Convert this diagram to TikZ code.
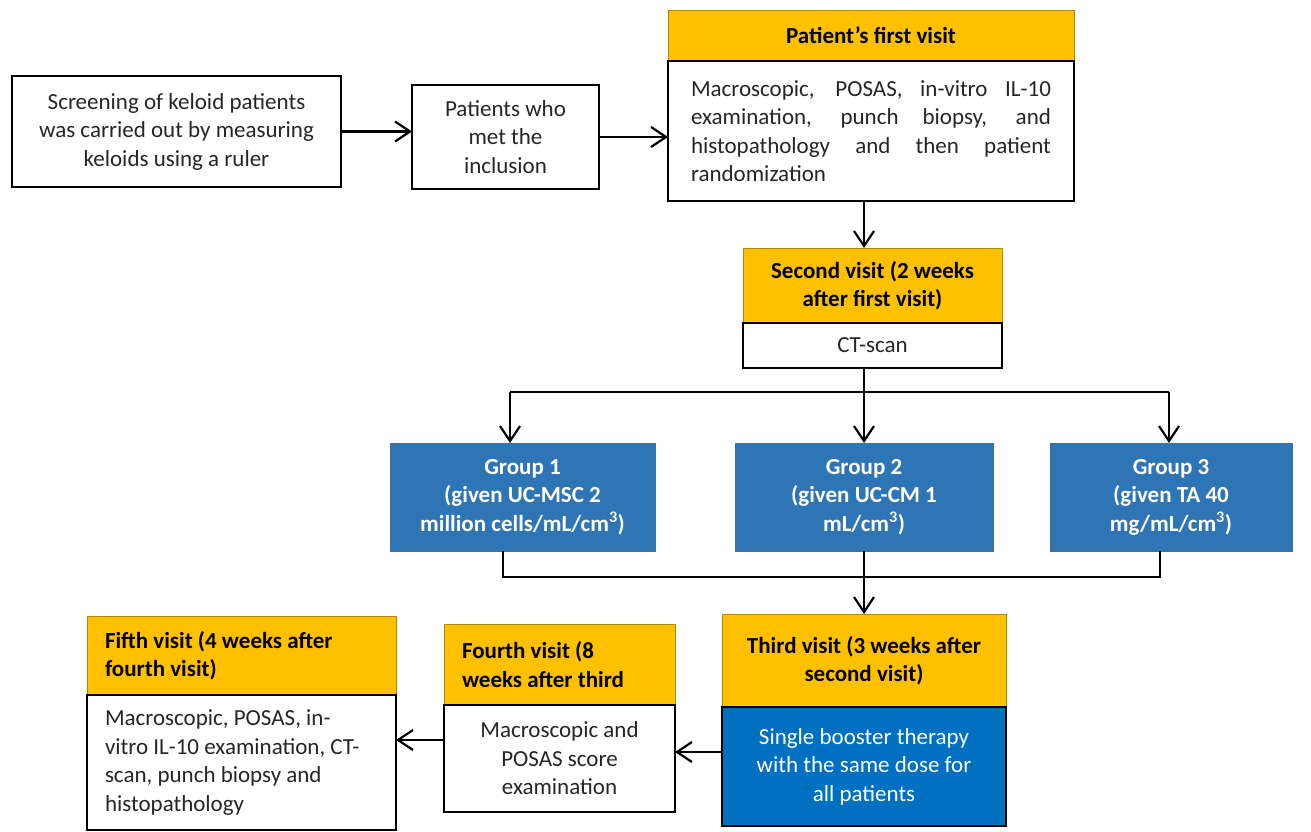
\documentclass[tikz,border=0pt]{standalone}
\usepackage{fontspec}
\setmainfont{Carlito}
\usetikzlibrary{arrows.meta}
\definecolor{gold}{HTML}{FFC000}
\definecolor{goldedge}{HTML}{B08A00}
\definecolor{grpblue}{HTML}{2E75B6}
\definecolor{grpedge}{HTML}{41719C}
\definecolor{boostblue}{HTML}{0070C0}
\definecolor{txt}{HTML}{262626}
\begin{document}
\begin{tikzpicture}[x=1pt,y=-1pt,
  every node/.style={font=\fontsize{23}{28.5}\selectfont, inner sep=0pt, outer sep=0pt},
  plainbox/.style={draw=black, line width=2.2pt, fill=white, text=txt, align=center},
  hdrbox/.style={draw=goldedge, line width=0.8pt, fill=gold, text=black, align=center,
    font=\bfseries\fontsize{23}{28.5}\selectfont},
  grpbox/.style={draw=grpedge, line width=1pt, fill=grpblue, text=white, align=center,
    font=\bfseries\fontsize{23}{28.5}\selectfont},
  boostbox/.style={draw=black, line width=2.2pt, fill=boostblue, text=white, align=center},
  arr/.style={line width=2.2pt, -{Straight Barb[length=15pt,width=20pt,line width=2.2pt]}},
  link/.style={line width=2.2pt}
]
\fill[white] (0,0) rectangle (1311,832);
\useasboundingbox (0,0) rectangle (1311,832);

% top row
\node[plainbox, minimum width=329pt, minimum height=111pt] (scr) at (176.5,131.5)
  {Screening of keloid patients\\was carried out by measuring\\keloids using a ruler};
\node[plainbox, minimum width=187pt, minimum height=104pt] (pat) at (505.5,137)
  {Patients who\\met the\\inclusion};
\node[hdrbox, minimum width=406pt, minimum height=50pt] (h1) at (871,35)
  {Patient\symbol{39}s first visit};
\node[plainbox, minimum width=406pt, minimum height=140pt, align=left] (b1) at (871,131)
  {\makebox[360pt][s]{Macroscopic, POSAS, in-vitro IL-10}\\
   \makebox[360pt][s]{examination, punch biopsy, and}\\
   \makebox[360pt][s]{histopathology and then patient}\\
   \makebox[360pt][l]{randomization}};

% second visit
\node[hdrbox, minimum width=259pt, minimum height=75pt] (h2) at (872.5,285.5)
  {Second visit (2 weeks\\after first visit)};
\node[plainbox, minimum width=259pt, minimum height=45pt] (b2) at (872.5,345.5)
  {CT-scan};

% groups
\node[grpbox, minimum width=265pt, minimum height=108pt] (g1) at (522.5,497)
  {Group 1\\(given UC-MSC 2\\million cells/mL/cm\textsuperscript{3})};
\node[grpbox, minimum width=258pt, minimum height=108pt] (g2) at (864,497)
  {Group 2\\(given UC-CM 1\\mL/cm\textsuperscript{3})};
\node[grpbox, minimum width=242pt, minimum height=108pt] (g3) at (1171,497)
  {Group 3\\(given TA 40\\mg/mL/cm\textsuperscript{3})};

% bottom row
\node[hdrbox, minimum width=284pt, minimum height=93pt] (h3) at (864,660.5)
  {Third visit (3 weeks after\\second visit)};
\node[boostbox, minimum width=284pt, minimum height=119pt] (b3) at (864,766.5)
  {Single booster therapy\\with the same dose for\\all patients};
\node[hdrbox, minimum width=231pt, minimum height=81pt, align=left] (h4) at (559.5,664.5)
  {\makebox[195pt][l]{Fourth visit (8}\\\makebox[195pt][l]{weeks after third}};
\node[plainbox, minimum width=231pt, minimum height=107pt] (b4) at (559.5,758.5)
  {Macroscopic and\\POSAS score\\examination};
\node[hdrbox, minimum width=309pt, minimum height=79pt, align=left] (h5) at (241.5,655.5)
  {\makebox[273pt][l]{Fifth visit (4 weeks after}\\\makebox[273pt][l]{fourth visit)}};
\node[plainbox, minimum width=309pt, minimum height=135pt, align=left] (b5) at (241.5,762.5)
  {\makebox[273pt][l]{Macroscopic, POSAS, in-}\\
   \makebox[273pt][l]{vitro IL-10 examination, CT-}\\
   \makebox[273pt][l]{scan, punch biopsy and}\\
   \makebox[273pt][l]{histopathology}};

% connectors
\coordinate (sp) at (864,392);
\coordinate (L) at (510,392);
\coordinate (R) at (1169,392);
\coordinate (jl) at (503,577);
\coordinate (jm) at (864,577);
\coordinate (jr) at (1160,577);

\draw[arr] (scr.east) -- (pat.west |- scr.east);
\draw[arr] (pat.east) -- (b1.west |- pat.east);
\draw[arr] (b1.south -| sp) -- (h2.north -| sp);
\draw[link] (b2.south -| sp) -- (sp);
\draw[link] (L) -- (R);
\draw[arr] (L) -- (g1.north -| L);
\draw[arr] (sp) -- (g2.north -| sp);
\draw[arr] (R) -- (g3.north -| R);
\draw[link] (g1.south -| jl) -- (jl) -- (jr) -- (g3.south -| jr);
\draw[link] (g2.south -| jm) -- (jm);
\draw[arr] (jm) -- (h3.north -| jm);
\draw[arr] ([yshift=14.5pt]b3.west) -- ([yshift=14.5pt]b3.west -| b4.east);
\draw[arr] ([yshift=18.5pt]b4.west) -- ([yshift=18.5pt]b4.west -| b5.east);
\end{tikzpicture}
\end{document}
